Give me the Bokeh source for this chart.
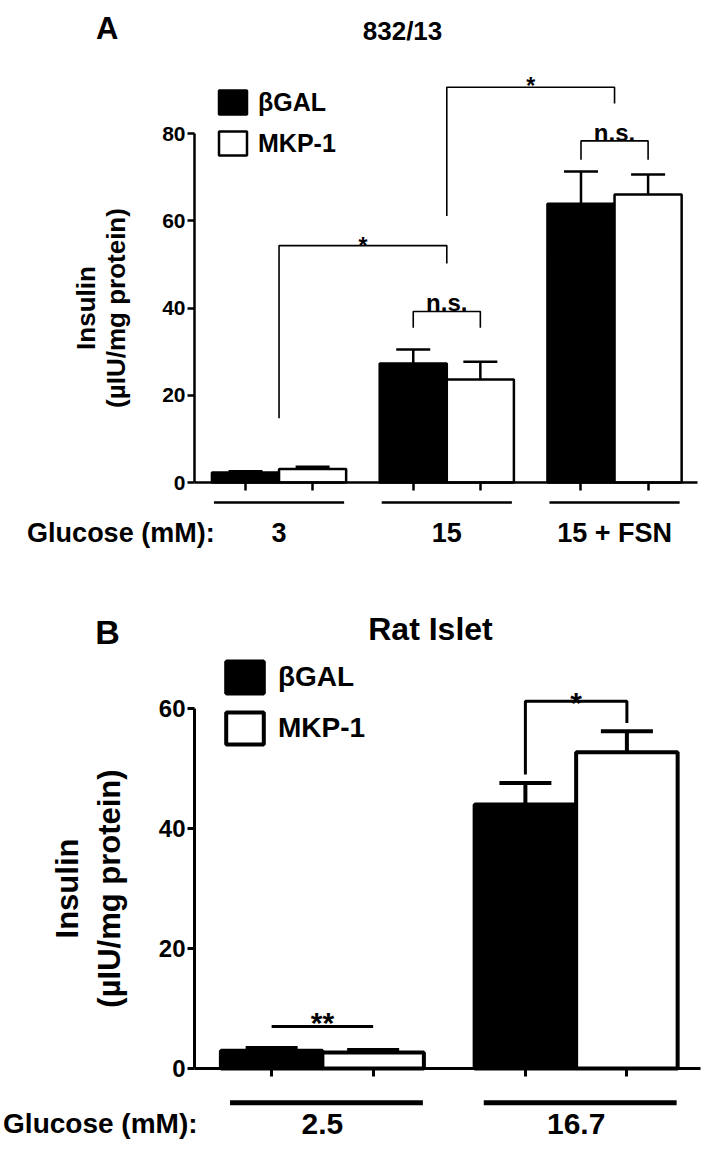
from bokeh.plotting import figure
from bokeh.models import (ColumnDataSource, Whisker, TeeHead, Legend, LegendItem,
                          Label, FixedTicker, Range1d)
from bokeh.layouts import column
from bokeh.embed import file_html
from bokeh.resources import INLINE
from bokeh.core.properties import value

FONT = "Liberation Sans"

# ---------------- data: panel A (832/13) ----------------
groups_a = ["3", "15", "15 + FSN"]
bgal_a = [2.3, 27.3, 63.9]
bgal_a_err = [0.3, 3.2, 7.4]
mkp_a = [3.1, 23.6, 66.0]
mkp_a_err = [0.5, 4.1, 4.6]
yticks_a = [0, 20, 40, 60, 80]

# ---------------- data: panel B (Rat Islet) ----------------
groups_b = ["2.5", "16.7"]
bgal_b = [2.95, 44.0]
bgal_b_err = [0.45, 3.6]
mkp_b = [2.65, 52.7]
mkp_b_err = [0.45, 3.5]
yticks_b = [0, 20, 40, 60]

series_names = ["\u03b2GAL", "MKP-1"]


def positions(n, start=0.26, pitch=2.5):
    left = [start + 0.5 + i * pitch for i in range(n)]
    right = [x + 1.0 for x in left]
    center = [x + 0.5 for x in left]
    return left, right, center


def base_fig(width, height, xr, yr):
    p = figure(width=width, height=height, output_backend="svg", toolbar_location=None,
               x_range=Range1d(*xr), y_range=Range1d(*yr), min_border=0,
               min_border_left=0, min_border_right=0, min_border_top=0, min_border_bottom=0)
    p.outline_line_color = None
    p.xgrid.visible = False
    p.ygrid.visible = False
    p.background_fill_color = "white"
    p.border_fill_color = "white"
    return p


def style_axes(p, yticks, ybounds, xticks, xbounds, tick_font, lw, label, label_font,
               standoff, line_height):
    ya = p.yaxis[0]
    ya.fixed_location = 0
    ya.bounds = ybounds
    ya.ticker = FixedTicker(ticks=yticks)
    ya.minor_tick_line_color = None
    ya.major_tick_in = 0
    ya.major_tick_out = 7
    ya.major_tick_line_width = lw
    ya.major_tick_line_color = "black"
    ya.axis_line_width = lw
    ya.axis_line_color = "black"
    ya.major_label_text_font = FONT
    ya.major_label_text_font_style = "bold"
    ya.major_label_text_font_size = tick_font
    ya.major_label_text_color = "black"
    ya.major_label_standoff = 2
    ya.axis_label = label
    ya.axis_label_text_font = FONT
    ya.axis_label_text_font_style = "bold"
    ya.axis_label_text_font_size = label_font
    ya.axis_label_text_color = "black"
    ya.axis_label_text_line_height = line_height
    ya.axis_label_standoff = standoff

    xa = p.xaxis[0]
    xa.fixed_location = 0
    xa.bounds = xbounds
    xa.ticker = FixedTicker(ticks=xticks)
    xa.minor_tick_line_color = None
    xa.major_tick_in = 0
    xa.major_tick_out = 8
    xa.major_tick_line_width = lw
    xa.major_tick_line_color = "black"
    xa.axis_line_width = lw
    xa.axis_line_color = "black"
    xa.major_label_text_color = None


def draw_panel(p, groups, bgal, bgal_err, mkp, mkp_err, bar_lw, cap, legend_loc,
               glyph_w, glyph_h, legend_font, standoff):
    left, right, center = positions(len(groups))
    src_b = ColumnDataSource(dict(x=left, top=bgal, up=[v + e for v, e in zip(bgal, bgal_err)]))
    src_m = ColumnDataSource(dict(x=right, top=mkp, up=[v + e for v, e in zip(mkp, mkp_err)]))
    for src in (src_b, src_m):
        w = Whisker(source=src, base="x", lower="top", upper="up", dimension="height",
                    line_width=bar_lw, line_color="black",
                    upper_head=TeeHead(size=cap, line_width=bar_lw, line_color="black"),
                    lower_head=None, level="glyph")
        p.add_layout(w)
    rb = p.vbar(x="x", top="top", bottom=0, width=1.0, source=src_b,
                fill_color="black", line_color="black", line_width=bar_lw)
    rm = p.vbar(x="x", top="top", bottom=0, width=1.0, source=src_m,
                fill_color="white", line_color="black", line_width=bar_lw)
    leg = Legend(items=[LegendItem(label=series_names[0], renderers=[rb]),
                        LegendItem(label=series_names[1], renderers=[rm])],
                 location=legend_loc, glyph_width=glyph_w, glyph_height=glyph_h,
                 spacing=11, padding=0, margin=0, border_line_alpha=0,
                 background_fill_alpha=0, label_text_font=FONT,
                 label_text_font_style="bold", label_text_font_size=legend_font,
                 label_text_color="black",
                 label_standoff=standoff, label_height=glyph_h)
    p.add_layout(leg)
    return left, right, center


def draw_brackets(p, sig, lw, fonts):
    xs, ys = [], []
    for (x1, x2, yt, yl, yr, txt, ty) in sig:
        xs.append([x1, x1, x2, x2])
        ys.append([yl, yt, yt, yr])
    p.multi_line(xs=xs, ys=ys, line_color="black", line_width=lw)
    p.text(x=[(s[0] + s[1]) / 2 for s in sig], y=[s[6] for s in sig],
           text=[s[5] for s in sig], text_align="center", text_baseline="alphabetic",
           text_font=value(FONT), text_font_style="bold", text_color="black",
           text_font_size=[fonts[s[5]] for s in sig])


def draw_groups(p, groups, center, line_y, text_y, lw, font, half, shift):
    p.segment(x0=[c + shift - half for c in center], x1=[c + shift + half for c in center],
              y0=[line_y] * len(center), y1=[line_y] * len(center),
              line_color="black", line_width=lw)
    p.text(x=center, y=[text_y] * len(center), text=groups, text_align="center",
           text_baseline="middle", text_font=value(FONT), text_font_style="bold",
           text_color="black", text_font_size=font)


def label(p, x, y, text, size, align="center", baseline="middle"):
    p.add_layout(Label(x=x, y=y, text=text, text_align=align, text_baseline=baseline,
                       text_font=FONT, text_font_style="bold", text_font_size=size,
                       text_color="black"))


# ================= Panel A =================
WA, HA = 702, 577
ux_a = 67.1
xr_a = (-194 / ux_a, (WA - 194) / ux_a)
uy_a = 349 / 80.0
yr_a = (-(HA - 482) / uy_a, 482 / uy_a)
pA = base_fig(WA, HA, xr_a, yr_a)
left_a, right_a, center_a = positions(len(groups_a))
style_axes(pA, yticks_a, (0, 80), left_a + right_a, (0, 7.5), "21px", 2.5,
           "Insulin\n(\u00b5IU/mg protein)", "26px", 28, 1.0)
draw_panel(pA, groups_a, bgal_a, bgal_a_err, mkp_a, mkp_a_err, 2.5, 34,
           (215, 419), 35, 30, "25px", 8)
sig_a = [
    (left_a[1], right_a[1], 39.2, 35.5, 35.5, "n.s.", 41.3),
    (left_a[2], right_a[2], 78.3, 74.0, 74.0, "n.s.", 80.3),
    (center_a[0], center_a[1], 54.3, 14.7, 50.2, "*", 54.1),
    (center_a[1], center_a[2], 90.6, 61.1, 86.9, "*", 90.9),
]
draw_brackets(pA, sig_a, 1.6, {"n.s.": "24px", "*": "23px"})
draw_groups(pA, groups_a, center_a, -4.6, -11.5, 2.5, "27px", 0.97, 0.0)
label(pA, 0.30, -11.5, "Glucose (mM):", "27px", "right")
label(pA, 3.10, 103.6, "832/13", "26px")
label(pA, -1.30, 104.1, "A", "31px", "center", "alphabetic")

# ================= Panel B =================
WB, HB = 702, 562
ux_b = 101.5
xr_b = (-194 / ux_b, (WB - 194) / ux_b)
uy_b = 6.0
yr_b = (-(HB - 491) / uy_b, 491 / uy_b)
pB = base_fig(WB, HB, xr_b, yr_b)
left_b, right_b, center_b = positions(len(groups_b))
style_axes(pB, yticks_b, (0, 60), left_b + right_b, (0, 4.99), "24px", 3,
           "Insulin\n(\u00b5IU/mg protein)", "31px", 29, 1.2)
draw_panel(pB, groups_b, bgal_b, bgal_b_err, mkp_b, mkp_b_err, 4, 52,
           (221, 391), 47, 40, "28px", 10)
sig_b = [
    (left_b[1], right_b[1], 61.2, 49.0, 57.6, "*", 61.0),
    (left_b[0], right_b[0], 7.0, 7.0, 7.0, "**", 7.6),
]
draw_brackets(pB, sig_b, 3, {"*": "30px", "**": "30px"})
draw_groups(pB, groups_b, center_b, -5.7, -9.2, 5, "30px", 0.95, 0.04)
label(pB, 0.03, -9.2, "Glucose (mM):", "28px", "right")
label(pB, 2.325, 73.25, "Rat Islet", "32px")
label(pB, -0.857, 72.7, "B", "34px")

layout = column(pA, pB, spacing=0)
open("out.html", "w").write(file_html(layout, INLINE))
